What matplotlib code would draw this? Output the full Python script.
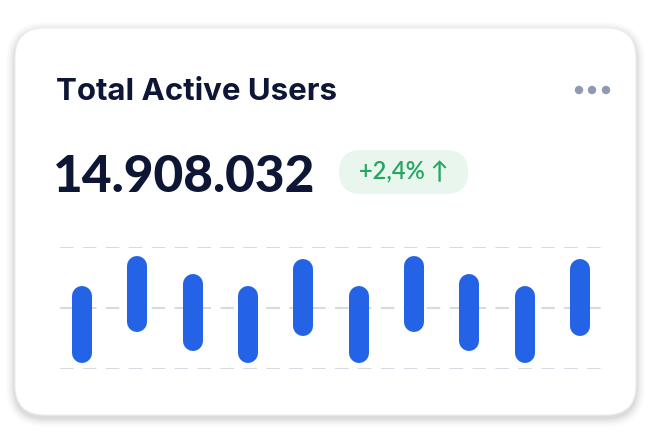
import matplotlib.pyplot as plt
from matplotlib.patches import FancyBboxPatch, Circle

# data
title = "Total Active Users"
total = "14.908.032"
change = "+2,4% ↑"
low = [5, 30, 15, 5, 27, 5, 30, 15, 5, 27]
high = [68, 93, 78, 68, 90, 68, 93, 78, 68, 90]

W, H = 650, 444
fig = plt.figure(figsize=(W / 100, H / 100), dpi=100)
fig.patch.set_facecolor("white")

# background axes in pixel coords (top-left origin)
bg = fig.add_axes([0, 0, 1, 1], zorder=0)
bg.set_xlim(0, W)
bg.set_ylim(H, 0)
bg.axis("off")

# soft shadow + card
for i, a in enumerate([0.012, 0.016, 0.02, 0.025, 0.03, 0.035]):
    g = 9 - i * 1.5
    bg.add_patch(FancyBboxPatch((15 - g, 28 - g + 3), 621 + 2 * g, 387 + 2 * g,
                                boxstyle=f"round,pad=0,rounding_size={30 + g}",
                                facecolor="black", edgecolor="none", alpha=a))
bg.add_patch(FancyBboxPatch((15, 28), 621, 387, boxstyle="round,pad=0,rounding_size=30",
                            facecolor="white", edgecolor="#eceef2", linewidth=0.8))

navy = "#0d1635"
bg.text(56, 100, title, fontsize=22.5, fontweight="bold", color=navy,
        family="Inter", va="baseline")
bg.text(53, 192, total, fontsize=37, fontweight="black", color=navy,
        family="Lato", va="baseline")

bg.add_patch(FancyBboxPatch((339, 150), 129, 44, boxstyle="round,pad=0,rounding_size=22",
                            facecolor="#e8f6ee", edgecolor="none"))
bg.text(403.5, 172, change, fontsize=17, fontweight="semibold", color="#27a563",
        family=["Lato", "DejaVu Sans"], ha="center", va="center")

for cx in [579, 592, 606]:
    bg.add_patch(Circle((cx, 90), 4.2, facecolor="#8e9ab4", edgecolor="none"))

# bar chart
ax = fig.add_axes([60 / W, 1 - 369 / H, 542 / W, 122 / H], zorder=2)
ax.set_xlim(-0.4, 9.4)
ax.set_ylim(0, 100)
for s in ax.spines.values():
    s.set_visible(False)
ax.set_xticks([])
ax.set_yticks([0, 50, 100])
ax.tick_params(left=False, labelleft=False)
ax.grid(axis="y", color="#d6dae2", linewidth=1.5, linestyle=(0, (6.5, 4.5)))
ax.set_facecolor("none")

bar_px = 20
cap = (bar_px / 2) / 122 * 100
x = list(range(len(low)))
ax.vlines(x, [l + cap for l in low], [h - cap for h in high], color="#2563e6",
          linewidth=bar_px * 0.72, capstyle="round", clip_on=False, zorder=3)

fig.savefig("out.png", dpi=100)
